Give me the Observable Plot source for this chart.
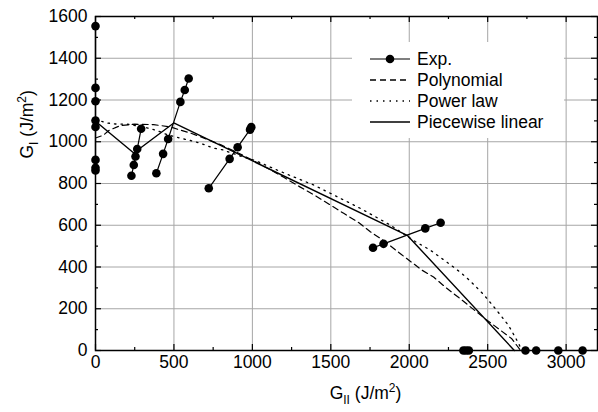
<!DOCTYPE html>
<html><head><meta charset="utf-8">
<script src="https://cdn.jsdelivr.net/npm/d3@7"></script>
<script src="https://cdn.jsdelivr.net/npm/@observablehq/plot@0.6"></script>
<style>
body{margin:0;background:#fff}
#chart svg{font-family:"Liberation Sans",Arial,sans-serif;overflow:visible}
</style>
</head><body><div id="chart"></div>
<script>
// Experimental points (specimen groups)
const expSpecimen = ["S0","S0","S0","S0","S0","S0","S0","S0",
  "S1","S1","S1","S1","S1",
  "S2","S2","S2","S2","S2","S2",
  "S3","S3","S3","S3","S3",
  "S4","S4","S4","S4",
  "S5","S5","S5","S5","S5","S5","S5"];
const expX = [0,0,0,0,0,0,0,0,
  229,244,255,266,291,
  388,431,463,541,569,594,
  722,855,906,985,993,
  1769,1836,2102,2200,
  2345,2362,2380,2741,2809,2950,3105];
const expY = [1554,1258,1194,1102,1071,913,875,862,
  837,889,929,965,1062,
  849,942,1013,1191,1248,1303,
  777,918,974,1058,1070,
  492,511,585,612,
  0,0,0,0,0,0,0];

// Polynomial criterion
const polyX = [0,50,85,160,250,370,480,530,605,700,800,900,1000,1100,1200,1300,1412,1497,1582,1677,1752,1826,1950,2081,2155,2229,2325,2484,2569,2654,2686,2710];
const polyY = [1018,1031,1054,1078,1084,1082,1071,1058,1042,1015,985,950,912,872,830,785,737,697,657,613,569,532,460,385,352,304,248,152,104,56,24,0];

// Power law criterion
const powX = [0,74,127,202,300,393,456,541,605,669,754,807,945,1019,1146,1242,1295,1390,1497,1582,1688,1783,1879,1975,2038,2134,2229,2282,2335,2389,2473,2558,2633,2675,2700,2715];
const powY = [1106,1090,1085,1084,1072,1054,1034,1017,1006,993,969,962,926,910,868,838,822,793,753,721,681,641,601,553,522,481,429,400,369,333,269,192,120,64,30,0];

// Piecewise linear criterion
const pieceX = [0,244,499,1990,2670];
const pieceY = [1098,946,1090,550,0];

const xTicks = [0,500,1000,1500,2000,2500,3000];
const xMinor = [250,750,1250,1750,2250,2750];
const yTicks = [0,200,400,600,800,1000,1200,1400,1600];
const yMinor = [100,300,500,700,900,1100,1300,1500];
const legendLabels = ["Exp.","Polynomial","Power law","Piecewise linear"];

const exp = expX.map((x,i) => ({x, y: expY[i], s: expSpecimen[i]}));
const poly = polyX.map((x,i) => ({x, y: polyY[i]}));
const pow = powX.map((x,i) => ({x, y: powY[i]}));
const piece = pieceX.map((x,i) => ({x, y: pieceY[i]}));

const W = 598, H = 412, mL = 95, mR = 1, mT = 16, mB = 62;
const fw = W - mL - mR, fh = H - mT - mB;
const grid = "#a6a6a6";
const FS = 17.5;

const chart = Plot.plot({
  width: W, height: H,
  marginLeft: mL, marginRight: mR, marginTop: mT, marginBottom: mB,
  style: {fontSize: FS + "px", fontFamily: "'Liberation Sans', Arial, sans-serif", background: "white", color: "black"},
  x: {domain: [0, 3200]},
  y: {domain: [0, 1600]},
  marks: [
    Plot.gridX(xTicks.slice(1), {stroke: grid, strokeOpacity: 1, strokeWidth: 1}),
    Plot.gridY(yTicks.slice(1, -1), {stroke: grid, strokeOpacity: 1, strokeWidth: 1}),
    Plot.ruleX(xTicks, {insetTop: fh - 6, stroke: "black", strokeWidth: 1.2}),
    Plot.ruleX(xMinor, {insetTop: fh - 3, stroke: "black", strokeWidth: 1.2}),
    Plot.ruleX(xTicks, {insetBottom: fh - 6, stroke: "black", strokeWidth: 1.2}),
    Plot.ruleX(xMinor, {insetBottom: fh - 3, stroke: "black", strokeWidth: 1.2}),
    Plot.ruleY(yTicks, {insetRight: fw - 6, stroke: "black", strokeWidth: 1.2}),
    Plot.ruleY(yMinor, {insetRight: fw - 3, stroke: "black", strokeWidth: 1.2}),
    Plot.ruleY(yTicks, {insetLeft: fw - 6, stroke: "black", strokeWidth: 1.2}),
    Plot.ruleY(yMinor, {insetLeft: fw - 3, stroke: "black", strokeWidth: 1.2}),
    Plot.axisX({ticks: xTicks, tickFormat: d3.format("d"), tickSize: 0, tickPadding: 5, label: null, fontSize: FS}),
    Plot.axisY({ticks: yTicks, tickFormat: d3.format("d"), tickSize: 0, tickPadding: 8, label: null, fontSize: FS}),
    Plot.line(poly, {x: "x", y: "y", stroke: "black", strokeWidth: 1.2, strokeDasharray: "6,4"}),
    Plot.line(pow, {x: "x", y: "y", stroke: "black", strokeWidth: 1.3, strokeDasharray: "1.5,5"}),
    Plot.line(piece, {x: "x", y: "y", stroke: "black", strokeWidth: 1.4}),
    Plot.line(exp, {x: "x", y: "y", z: "s", stroke: "black", strokeWidth: 1.2}),
    Plot.dot(exp, {x: "x", y: "y", r: 4.3, fill: "black", stroke: "none"}),
    Plot.frame({stroke: "black", strokeWidth: 1.5}),
    Plot.text(["XLABEL"], {frameAnchor: "bottom", dx: 19, dy: 48, fontSize: FS, fill: "black"}),
    Plot.text(["YLABEL"], {frameAnchor: "left", rotate: -90, dx: -68, dy: -25, fontSize: FS, fill: "black"})
  ]
});
document.getElementById("chart").appendChild(chart);

function rich(t, sub) {
  t.textContent = "";
  const parts = [["G",0,FS],[sub,5,12],[" (J/m",-5,FS],["2",-7,12],[")",7,FS]];
  for (const [s, dy, fs] of parts) {
    const ts = document.createElementNS("http://www.w3.org/2000/svg","tspan");
    ts.textContent = s;
    ts.setAttribute("dy", dy);
    ts.setAttribute("font-size", fs);
    t.appendChild(ts);
  }
}
chart.querySelectorAll("text").forEach(t => {
  if (t.textContent === "XLABEL") rich(t, "II");
  else if (t.textContent === "YLABEL") rich(t, "I");
});

// Legend
const svg = d3.select(chart);
const lg = svg.append("g");
lg.append("rect").attr("x", 352).attr("y", 42).attr("width", 212).attr("height", 96).attr("fill", "white");
const rows = [59, 80, 101, 122];
const dash = [null, "6,4", "1.5,5", null];
legendLabels.forEach((lab, i) => {
  const y = rows[i];
  const ln = lg.append("line").attr("x1", 370).attr("x2", 410).attr("y1", y).attr("y2", y)
    .attr("stroke", "black").attr("stroke-width", i === 0 ? 1.2 : 1.3);
  if (dash[i]) ln.attr("stroke-dasharray", dash[i]);
  if (i === 0) lg.append("circle").attr("cx", 390).attr("cy", y).attr("r", 4.3).attr("fill", "black");
  lg.append("text").attr("x", 417).attr("y", y).attr("dy", "0.35em")
    .attr("text-anchor", "start").attr("font-size", FS).attr("fill", "black").text(lab);
});
</script>
</body></html>
